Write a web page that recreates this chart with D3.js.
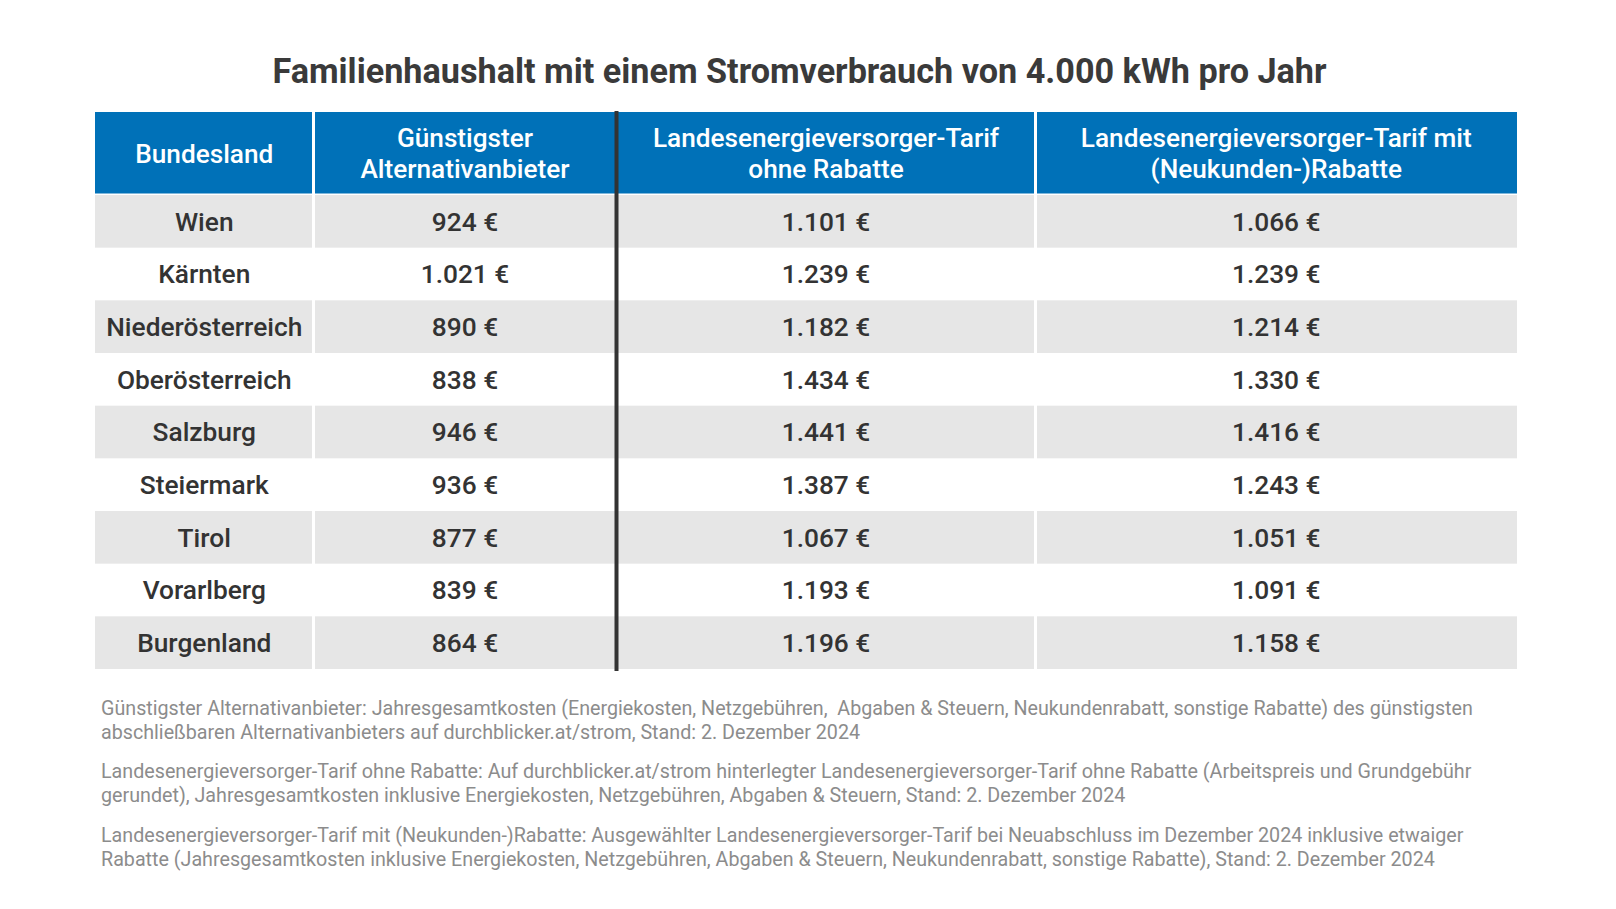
<!DOCTYPE html>
<html>
<head>
<meta charset="utf-8">
<script src="https://cdn.jsdelivr.net/npm/d3@7"></script>
<style>
  html, body { margin: 0; padding: 0; background: #ffffff; }
  svg { display: block; font-family: Roboto, "Noto Sans", sans-serif; }
</style>
</head>
<body>
<svg id="chart" width="1616" height="909"></svg>
<script>
// ---- Data ----
const title = "Familienhaushalt mit einem Stromverbrauch von 4.000 kWh pro Jahr";
const headers = [
  ["Bundesland"],
  ["Günstigster", "Alternativanbieter"],
  ["Landesenergieversorger-Tarif", "ohne Rabatte"],
  ["Landesenergieversorger-Tarif mit", "(Neukunden-)Rabatte"]
];
const bundeslaender = ["Wien", "Kärnten", "Niederösterreich", "Oberösterreich", "Salzburg", "Steiermark", "Tirol", "Vorarlberg", "Burgenland"];
const alternativ = [924, 1021, 890, 838, 946, 936, 877, 839, 864];
const ohneRabatte = [1101, 1239, 1182, 1434, 1441, 1387, 1067, 1193, 1196];
const mitRabatte = [1066, 1239, 1214, 1330, 1416, 1243, 1051, 1091, 1158];
const footnotes = [
  ["Günstigster Alternativanbieter: Jahresgesamtkosten (Energiekosten, Netzgebühren,  Abgaben & Steuern, Neukundenrabatt, sonstige Rabatte) des günstigsten",
   "abschließbaren Alternativanbieters auf durchblicker.at/strom, Stand: 2. Dezember 2024"],
  ["Landesenergieversorger-Tarif ohne Rabatte: Auf durchblicker.at/strom hinterlegter Landesenergieversorger-Tarif ohne Rabatte (Arbeitspreis und Grundgebühr",
   "gerundet), Jahresgesamtkosten inklusive Energiekosten, Netzgebühren, Abgaben & Steuern, Stand: 2. Dezember 2024"],
  ["Landesenergieversorger-Tarif mit (Neukunden-)Rabatte: Ausgewählter Landesenergieversorger-Tarif bei Neuabschluss im Dezember 2024 inklusive etwaiger",
   "Rabatte (Jahresgesamtkosten inklusive Energiekosten, Netzgebühren, Abgaben & Steuern, Neukundenrabatt, sonstige Rabatte), Stand: 2. Dezember 2024"]
];

// ---- Layout ----
const svg = d3.select("#chart");
const colEdges = [95, 313.5, 616.5, 1035.5, 1517];
const headerTop = 112, headerBottom = 195, tableBottom = 669;
const blue = "#0071b8", gray = "#e6e6e6", dark = "#333333";
const gap = 1.5;

const rowScale = d3.scaleBand().domain(d3.range(bundeslaender.length)).range([headerBottom, tableBottom]);
const fmt = d3.formatLocale({decimal: ",", thousands: ".", grouping: [3], currency: ["", " €"]}).format("$,.0f");

const rows = bundeslaender.map((b, i) => [b, fmt(alternativ[i]), fmt(ohneRabatte[i]), fmt(mitRabatte[i])]);

// Title
svg.append("text")
  .attr("x", 799.5).attr("y", 83)
  .attr("text-anchor", "middle")
  .attr("font-size", 34.2).attr("font-weight", 700)
  .attr("fill", "#3a3a3a")
  .text(title);

// Header cells
const hdr = svg.append("g");
headers.forEach((lines, c) => {
  const x0 = colEdges[c] + (c === 0 ? 0 : gap);
  const x1 = colEdges[c + 1] - (c === headers.length - 1 ? 0 : gap);
  hdr.append("rect").attr("x", x0).attr("y", headerTop).attr("width", x1 - x0).attr("height", headerBottom - headerTop - gap).attr("fill", blue);
  const cx = (colEdges[c] + colEdges[c + 1]) / 2;
  const cy = (headerTop + headerBottom) / 2;
  const lh = 31;
  lines.forEach((ln, k) => {
    hdr.append("text")
      .attr("x", cx)
      .attr("y", cy + (k - (lines.length - 1) / 2) * lh)
      .attr("dy", "0.36em")
      .attr("text-anchor", "middle")
      .attr("font-size", 26.2).attr("font-weight", 500)
      .attr("fill", "#ffffff")
      .text(ln);
  });
});

// Body rows
const body = svg.append("g");
rows.forEach((r, i) => {
  const y0 = rowScale(i);
  const h = rowScale.bandwidth();
  r.forEach((val, c) => {
    const x0 = colEdges[c] + (c === 0 ? 0 : gap);
    const x1 = colEdges[c + 1] - (c === r.length - 1 ? 0 : gap);
    if (i % 2 === 0) {
      body.append("rect").attr("x", x0).attr("y", y0).attr("width", x1 - x0).attr("height", h).attr("fill", gray);
    }
    body.append("text")
      .attr("x", (colEdges[c] + colEdges[c + 1]) / 2)
      .attr("y", y0 + h / 2)
      .attr("dy", "0.36em")
      .attr("text-anchor", "middle")
      .attr("font-size", 26.3).attr("font-weight", 500)
      .attr("fill", dark)
      .text(val);
  });
});

// Thick divider
svg.append("line")
  .attr("x1", colEdges[2]).attr("x2", colEdges[2])
  .attr("y1", headerTop - 1).attr("y2", tableBottom + 2)
  .attr("stroke", "#333333").attr("stroke-width", 4);

// Footnotes
const fn = svg.append("g");
const fnY = [708, 771, 834.5];
footnotes.forEach((lines, k) => {
  lines.forEach((ln, j) => {
    fn.append("text")
      .attr("x", 101).attr("y", fnY[k] + j * 24)
      .attr("dy", "0.36em")
      .attr("font-size", 19.7).attr("font-weight", 400)
      .attr("fill", "#8c8c8c")
      .attr("xml:space", "preserve")
      .style("white-space", "pre")
      .text(ln);
  });
});
</script>
</body>
</html>
